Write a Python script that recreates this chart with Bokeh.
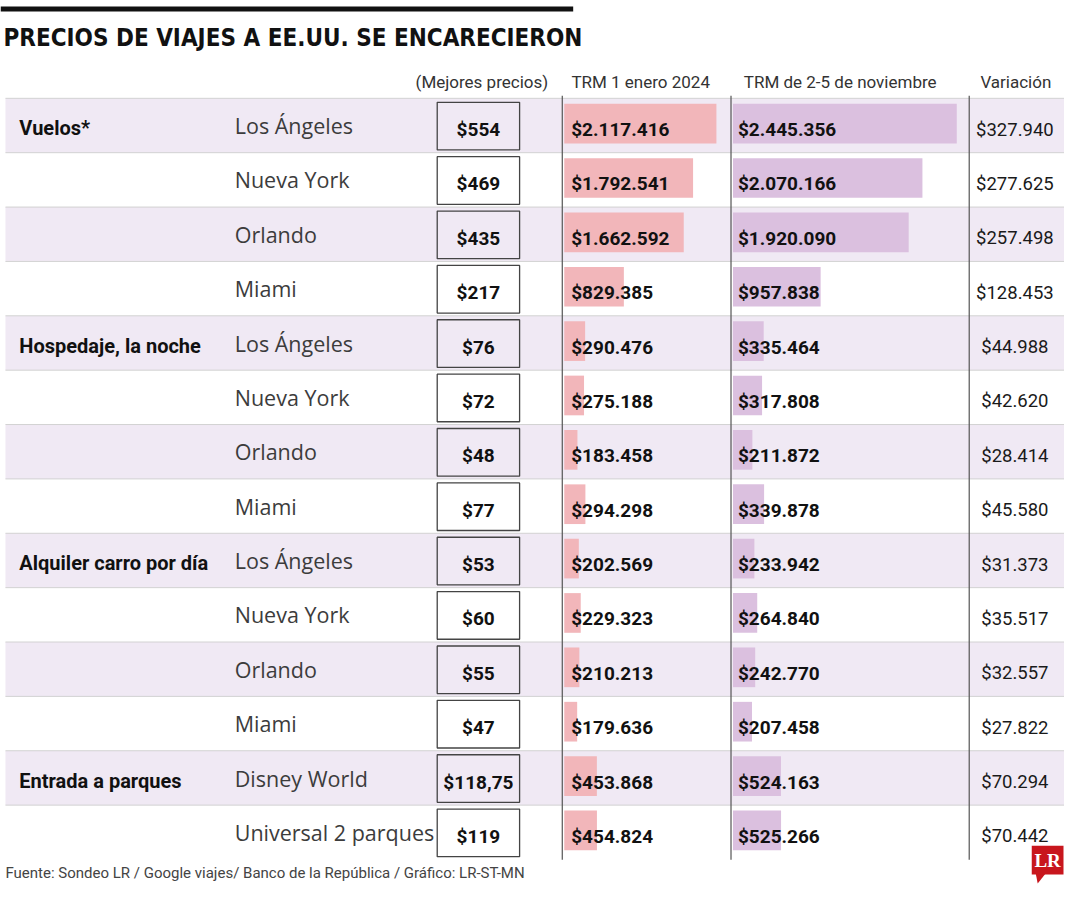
from bokeh.plotting import figure
from bokeh.models import Range1d, ColumnDataSource
from bokeh.core.properties import value
from bokeh.embed import file_html
from bokeh.resources import INLINE

# ---------------- data ----------------
title = "PRECIOS DE VIAJES A EE.UU. SE ENCARECIERON"
headers = ["(Mejores precios)", "TRM 1 enero 2024", "TRM de 2-5 de noviembre", "Variación"]
categories = ["Vuelos*", "Hospedaje, la noche", "Alquiler carro por día", "Entrada a parques"]
category_rows = [0, 4, 8, 12]
cities = ["Los Ángeles", "Nueva York", "Orlando", "Miami",
          "Los Ángeles", "Nueva York", "Orlando", "Miami",
          "Los Ángeles", "Nueva York", "Orlando", "Miami",
          "Disney World", "Universal 2 parques"]
prices_usd = ["$554", "$469", "$435", "$217",
              "$76", "$72", "$48", "$77",
              "$53", "$60", "$55", "$47",
              "$118,75", "$119"]
trm_enero = [2117416, 1792541, 1662592, 829385,
             290476, 275188, 183458, 294298,
             202569, 229323, 210213, 179636,
             453868, 454824]
trm_noviembre = [2445356, 2070166, 1920090, 957838,
                 335464, 317808, 211872, 339878,
                 233942, 264840, 242770, 207458,
                 524163, 525266]
variacion = [327940, 277625, 257498, 128453,
             44988, 42620, 28414, 45580,
             31373, 35517, 32557, 27822,
             70294, 70442]
source_note = "Fuente: Sondeo LR / Google viajes/ Banco de la República / Gráfico: LR-ST-MN"


def fmt(v):
    return "$" + f"{v:,}".replace(",", ".")


# ---------------- layout ----------------
W, H = 1064, 884
X0, X1 = 0, 1072
Y0, Y1 = 0, 891
ROW_TOP = 98.6
ROW_H = 54.8
N = len(cities)

COND = value("DejaVu Sans Condensed")
SANS = value("Roboto")
LIGHT = value("Open Sans")

BAR1_X, BAR1_SCALE = 568.0, 7.24e-5
BAR2_X, BAR2_SCALE = 738.0, 9.22e-5

p = figure(width=W, height=H, output_backend="svg", toolbar_location=None,
           x_range=Range1d(X0, X1), y_range=Range1d(Y1, Y0),
           min_border=0, outline_line_color=None)
p.axis.visible = False
p.grid.visible = False
p.background_fill_color = "white"

p.extra_x_ranges = {
    "trm1": Range1d((X0 - BAR1_X) / BAR1_SCALE, (X1 - BAR1_X) / BAR1_SCALE),
    "trm2": Range1d((X0 - BAR2_X) / BAR2_SCALE, (X1 - BAR2_X) / BAR2_SCALE),
}

tops = [ROW_TOP + i * ROW_H for i in range(N)]
shaded = [i for i in range(N) if i % 2 == 0]

# shaded bands
p.quad(left=5, right=1076, top=[tops[i] for i in shaded],
       bottom=[tops[i] + ROW_H for i in shaded],
       fill_color="#f0e9f4", line_color=None)
# separators
sep_y = sorted(set([tops[i] for i in shaded] + [tops[i] + ROW_H for i in shaded]))
p.segment(x0=5, x1=1076, y0=sep_y, y1=sep_y, line_color="#d2d2d2", line_width=1)

src = ColumnDataSource(dict(
    yb=[t + 25.5 for t in tops], yt=[t + 31.5 for t in tops],
    ymid=[t + 27.5 for t in tops], ybox=[t + 28 for t in tops],
    e=trm_enero, n=trm_noviembre,
    el=[fmt(v) for v in trm_enero], nl=[fmt(v) for v in trm_noviembre],
    vl=[fmt(v) for v in variacion], city=cities, price=prices_usd))

# bars
p.hbar(y="yb", height=40, left=0, right="e", source=src, x_range_name="trm1",
       fill_color="#f2b6ba", line_color=None)
p.hbar(y="yb", height=40, left=0, right="n", source=src, x_range_name="trm2",
       fill_color="#dbc0df", line_color=None)

# vertical dividers
for xv in (566, 736, 976):
    p.segment(x0=xv, x1=xv, y0=96, y1=866, line_color="#555555", line_width=1.2)

# price boxes
p.rect(x=481.5, y="ybox", width=83, height=48, source=src,
       fill_color=None, line_color="#444444", line_width=1.3)

# texts
p.text(x=481.5, y="yt", text="price", source=src, text_font=SANS,
       text_font_style="bold", text_font_size="19px", text_color="#111111",
       text_align="center", text_baseline="middle")
p.text(x=575, y="yt", text="el", source=src, text_font=SANS,
       text_font_style="bold", text_font_size="19px", text_color="#111111",
       text_align="left", text_baseline="middle")
p.text(x=743, y="yt", text="nl", source=src, text_font=SANS,
       text_font_style="bold", text_font_size="19px", text_color="#111111",
       text_align="left", text_baseline="middle")
p.text(x=1022, y="yt", text="vl", source=src, text_font=SANS,
       text_font_size="18.5px", text_color="#1a1a1a",
       text_align="center", text_baseline="middle")
p.text(x=236, y="ymid", text="city", source=src, text_font=LIGHT,
       text_font_size="21.5px", text_color="#3c3c3c",
       text_align="left", text_baseline="middle")

p.text(x=19, y=[tops[r] + 30 for r in category_rows], text=categories,
       text_font=SANS, text_font_style="bold", text_font_size="20px",
       text_color="#111111", text_align="left", text_baseline="middle")

# headers
p.text(x=[485, 645, 846, 1023], y=82, text=headers, text_font=SANS,
       text_font_size="17px", text_color="#333333",
       text_align="center", text_baseline="middle")

# title
p.quad(left=X0, right=577, top=6, bottom=11, fill_color="#111111", line_color=None)
p.text(x=3, y=38, text=[title], text_font=COND, text_font_style="bold",
       text_font_size="24px", text_color="#111111",
       text_align="left", text_baseline="middle")

# source
p.text(x=5, y=879, text=[source_note], text_font=SANS,
       text_font_size="15px", text_color="#444444",
       text_align="left", text_baseline="middle")

# logo
p.quad(left=1039, right=1071, top=852, bottom=881, fill_color="#c8161d", line_color=None)
p.patch(x=[1043, 1053, 1045], y=[880, 880, 890], fill_color="#c8161d", line_color=None)
p.text(x=1055, y=867, text=["LR"], text_font=value("Liberation Serif"),
       text_font_style="bold", text_font_size="19px", text_color="white",
       text_align="center", text_baseline="middle")

open("out.html", "w").write(file_html(p, INLINE))
